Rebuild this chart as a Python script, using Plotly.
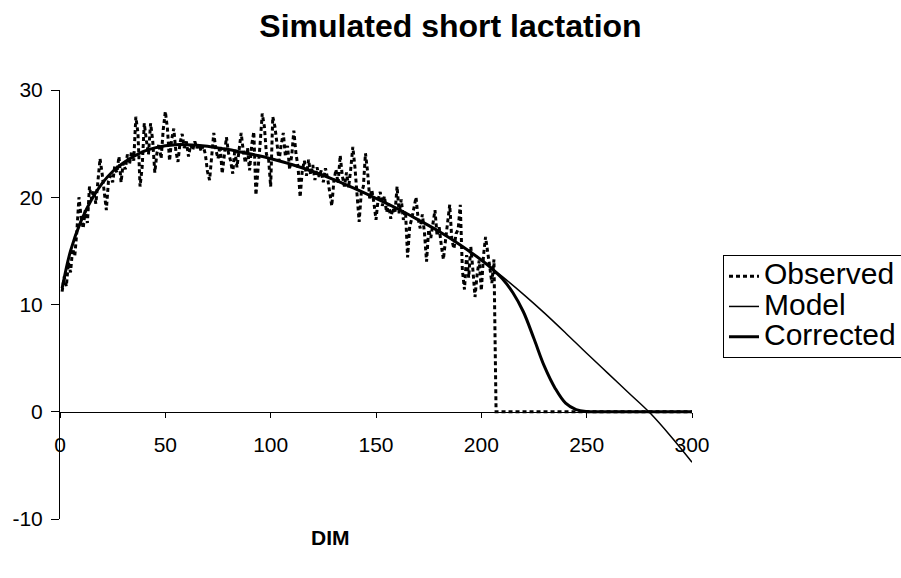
import plotly.graph_objects as go

# ---------------- data ----------------
obs_days = list(range(1, 207)) + [207, 300]
obs_vals = [
    11.2, 12.6, 11.7, 13.9, 13.0, 15.2, 14.5, 16.8, 20.0, 18.2,   # 1-10
    17.1, 18.8, 17.6, 21.0, 19.8, 20.6, 19.4, 21.9, 23.6, 22.2,   # 11-20
    20.7, 18.8, 21.5, 22.0, 21.4, 22.9, 22.3, 23.8, 21.4, 23.2,   # 21-30
    22.6, 24.0, 23.1, 24.3, 23.4, 27.5, 26.0, 21.0, 22.8, 26.9,   # 31-40
    25.3, 24.0, 26.9, 25.3, 22.3, 24.1, 25.0, 23.6, 26.3, 28.0,   # 41-50
    26.4, 23.4, 25.4, 26.4, 24.3, 23.3, 25.1, 25.9, 24.6, 25.2,   # 51-60
    23.8, 24.9, 24.4, 25.2, 24.6, 24.9, 24.3, 24.8, 24.0, 22.4,   # 61-70
    21.6, 23.6, 26.0, 24.4, 23.6, 24.8, 22.2, 23.9, 25.6, 24.1,   # 71-80
    23.4, 22.2, 24.5, 22.8, 24.4, 26.0, 24.3, 23.2, 24.6, 22.5,   # 81-90
    24.9, 26.1, 20.2, 22.4, 25.0, 27.8, 26.6, 24.0, 23.6, 21.0,   # 91-100
    27.5, 26.6, 25.0, 23.4, 24.9, 26.0, 23.8, 24.8, 22.6, 23.9,   # 101-110
    26.2, 24.1, 22.8, 20.0, 22.5, 23.4, 22.0, 23.5, 22.1, 23.0,   # 111-120
    21.6, 22.8, 21.9, 22.5, 21.4, 22.7, 21.8, 20.7, 19.2, 21.5,   # 121-130
    22.6, 21.3, 23.9, 22.0, 21.0, 22.3, 20.9, 22.6, 24.7, 22.8,   # 131-140
    20.0, 17.7, 20.4, 21.0, 24.1, 22.4, 19.9, 20.7, 19.5, 17.9,   # 141-150
    19.8, 20.5, 19.2, 20.1, 18.6, 19.4, 18.0, 19.0, 18.5, 21.0,   # 151-160
    18.5, 19.8, 17.9, 18.7, 14.4, 17.3, 18.0, 19.2, 20.0, 18.0,   # 161-170
    17.1, 18.4, 16.7, 14.0, 17.0, 16.2, 17.6, 18.8, 16.4, 17.2,   # 171-180
    15.5, 14.2, 16.0, 17.6, 19.3, 16.0, 15.2, 16.6, 17.0, 19.3,   # 181-190
    13.2, 11.4, 14.6, 12.5, 15.4, 13.2, 10.7, 12.8, 14.1, 11.3,   # 191-200
    14.5, 16.3, 15.1, 13.5, 12.0, 14.2,                           # 201-206
    0.0, 0.0,                                                     # 207, 300
]

model_days = [1, 5, 10, 15, 20, 25, 30, 35, 40, 45, 50, 55, 60, 65, 70, 75, 80,
              85, 90, 95, 100, 110, 120, 130, 140, 150, 160, 170, 180, 190, 200,
              210, 220, 230, 240, 250, 260, 270, 280, 290, 300]
model_vals = [11.5, 15.0, 17.8, 19.8, 21.3, 22.4, 23.2, 23.8, 24.3, 24.6, 24.8,
              24.9, 24.9, 24.85, 24.75, 24.6, 24.45, 24.25, 24.05, 23.85, 23.6,
              23.05, 22.4, 21.65, 20.8, 19.9, 18.95, 17.9, 16.8, 15.55, 14.15,
              12.6, 10.95, 9.2, 7.35, 5.45, 3.6, 1.75, -0.1, -2.3, -4.7]

corr_days = [1, 5, 10, 15, 20, 25, 30, 35, 40, 45, 50, 55, 60, 65, 70, 75, 80,
             85, 90, 95, 100, 110, 120, 130, 140, 150, 160, 170, 180, 190, 200,
             205, 210, 215, 220, 225, 230, 235, 240, 245, 250, 260, 300]
corr_vals = [11.5, 15.0, 17.8, 19.8, 21.3, 22.4, 23.2, 23.8, 24.3, 24.6, 24.8,
             24.9, 24.9, 24.85, 24.75, 24.6, 24.45, 24.25, 24.05, 23.85, 23.6,
             23.05, 22.4, 21.65, 20.8, 19.9, 18.95, 17.9, 16.8, 15.55, 14.15,
             13.35, 12.4, 11.1, 9.3, 6.8, 4.2, 2.2, 0.8, 0.2, 0.02, 0.0, 0.0]

series_names = ["Observed", "Model", "Corrected"]
x_ticks = [0, 50, 100, 150, 200, 250, 300]
y_ticks = [-10, 0, 10, 20, 30]

FONT = "Liberation Sans, Arial, sans-serif"


def legend_label(name):
    return '<span style="font-size:30px">%s</span>' % name


fig = go.Figure()
fig.add_trace(go.Scatter(x=obs_days, y=obs_vals, mode="lines",
                         name=legend_label(series_names[0]),
                         line=dict(color="black", width=3, dash="4px,3px")))
fig.add_trace(go.Scatter(x=model_days, y=model_vals, mode="lines",
                         name=legend_label(series_names[1]),
                         line=dict(color="black", width=1.5, shape="spline")))
fig.add_trace(go.Scatter(x=corr_days, y=corr_vals, mode="lines",
                         name=legend_label(series_names[2]),
                         line=dict(color="black", width=3, shape="spline")))

fig.update_layout(
    width=901, height=578,
    margin=dict(l=60, r=209, t=90, b=59, autoexpand=False),
    paper_bgcolor="white", plot_bgcolor="white",
    font=dict(family=FONT, size=21, color="black"),
    title=dict(text="<b>Simulated short lactation</b>", x=0.5, xanchor="center",
               y=1 - 26 / 578, yanchor="middle",
               font=dict(family=FONT, size=32, color="black")),
    showlegend=True,
    legend=dict(xref="container", yref="container",
                x=723 / 901, xanchor="left", y=1 - 255 / 578, yanchor="top",
                bordercolor="black", borderwidth=1, bgcolor="white",
                font=dict(family=FONT, size=21, color="black"),
                tracegroupgap=0),
    xaxis=dict(range=[0, 300], tickvals=x_ticks, ticktext=[str(v) for v in x_ticks],
               showgrid=False, zeroline=False, showline=True, linecolor="black",
               linewidth=1, ticks="outside", ticklen=5, tickcolor="black",
               anchor="free", position=0.25, ticklabelstandoff=9,
               tickfont=dict(family=FONT, size=21, color="black")),
    yaxis=dict(range=[-10, 30], tickvals=y_ticks, ticktext=[str(v) for v in y_ticks],
               showgrid=False, zeroline=False, showline=True, linecolor="black",
               linewidth=1, ticks="outside", ticklen=8, tickcolor="black",
               ticklabelstandoff=4,
               tickfont=dict(family=FONT, size=21, color="black")),
    annotations=[dict(text="<b>DIM</b>", x=(330 - 60) / 632, y=(519 - 537) / 429,
                      xref="paper", yref="paper", xanchor="center", yanchor="middle",
                      showarrow=False, font=dict(family=FONT, size=21, color="black"))],
)

fig.write_html("out.html")
